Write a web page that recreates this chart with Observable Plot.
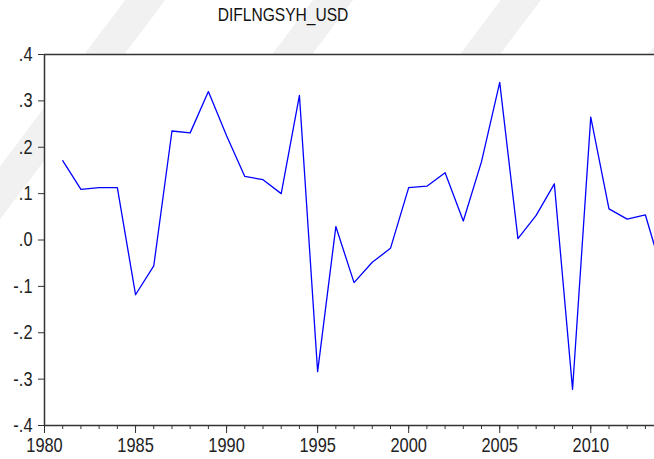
<!DOCTYPE html>
<html>
<head>
<meta charset="utf-8">
<script src="https://cdn.jsdelivr.net/npm/d3@7"></script>
<script src="https://cdn.jsdelivr.net/npm/@observablehq/plot@0.6"></script>
<style>
  html, body { margin: 0; padding: 0; background: #fff; }
  #wrap { position: relative; width: 654px; height: 459px; overflow: hidden; background: #fff; }
  .wm {
    position: absolute;
    background: repeating-linear-gradient(127deg, #ffffff 0px, #ffffff 100px, #f1f1f1 100px, #f1f1f1 132px, #ffffff 132px, #ffffff 150px);
    background-attachment: local;
  }
  #wmTop { left: 0; top: 0; width: 654px; height: 54px; background-size: 654px 459px; background-position: 0 0; }
  #wmLeft { left: 0; top: 54px; width: 44px; height: 300px; background-size: 654px 459px; background-position: 0 -54px; }
  #title {
    position: absolute; top: 2px; left: 183px; width: 200px; text-align: center;
    font-family: "Liberation Sans", Arial, sans-serif;
    font-size: 19px; color: #111; line-height: 26px;
    transform: scaleX(0.82); transform-origin: center;
  }
  #chart { position: absolute; left: 0; top: 0; }
  #chart svg text { font-family: "Liberation Sans", Arial, sans-serif; }
</style>
</head>
<body>
<div id="wrap">
  <div class="wm" id="wmTop"></div>
  <div class="wm" id="wmLeft"></div>
  <div id="chart"></div>
  <div id="title">DIFLNGSYH_USD</div>
</div>
<script>
const years = [1981,1982,1983,1984,1985,1986,1987,1988,1989,1990,1991,1992,1993,1994,1995,1996,1997,1998,1999,2000,2001,2002,2003,2004,2005,2006,2007,2008,2009,2010,2011,2012,2013,2014];
const values = [0.171,0.109,0.113,0.113,-0.118,-0.056,0.235,0.231,0.320,0.225,0.137,0.130,0.100,0.312,-0.284,0.029,-0.092,-0.048,-0.018,0.113,0.116,0.145,0.041,0.169,0.340,0.003,0.053,0.121,-0.322,0.265,0.067,0.045,0.054,-0.079];
const yTicks = [-0.4,-0.3,-0.2,-0.1,0,0.1,0.2,0.3,0.4];
const xMajor = [1980,1985,1990,1995,2000,2005,2010];
const xMinor = d3.range(1980, 2014);

const data = years.map((y, i) => ({year: y, value: values[i]}));
const fmt = d => d.toFixed(1).replace("0.", ".");

const plot = Plot.plot({
  width: 654,
  height: 459,
  marginLeft: 44,
  marginRight: 0,
  marginTop: 54,
  marginBottom: 34,
  style: {background: "transparent", fontSize: "20px", color: "#222"},
  x: {domain: [1980, 2013.5]},
  y: {domain: [-0.4, 0.4]},
  marks: [
    Plot.frame({fill: "white", stroke: "none"}),
    Plot.axisY({ticks: yTicks, tickFormat: fmt, tickSize: 6, tickPadding: 6, label: null, stroke: "#333"}),
    Plot.axisX({ticks: xMinor, tickSize: 4, tickFormat: () => "", label: null, stroke: "#333"}),
    Plot.axisX({ticks: xMajor, tickSize: 8, tickPadding: 4, tickFormat: d => String(d), label: null, stroke: "#333"}),
    Plot.line(data, {x: "year", y: "value", stroke: "#0000ff", strokeWidth: 1.3, clip: true}),
    Plot.ruleY([-0.4], {stroke: "#333", strokeWidth: 1.5}),
    Plot.ruleY([0.4], {stroke: "#333", strokeWidth: 1.5}),
    Plot.ruleX([1980], {stroke: "#333", strokeWidth: 1.5})
  ]
});
// compress tick label glyphs horizontally (narrow font look), keeping anchors
plot.querySelectorAll("text").forEach(t => {
  if (!t.textContent) return;
  const tr = t.getAttribute("transform") || "";
  t.setAttribute("transform", (tr + " scale(0.82,1)").trim());
  const x = t.getAttribute("x");
  if (x) t.setAttribute("x", +x / 0.82);
});
document.getElementById("chart").appendChild(plot);
</script>
</body>
</html>
